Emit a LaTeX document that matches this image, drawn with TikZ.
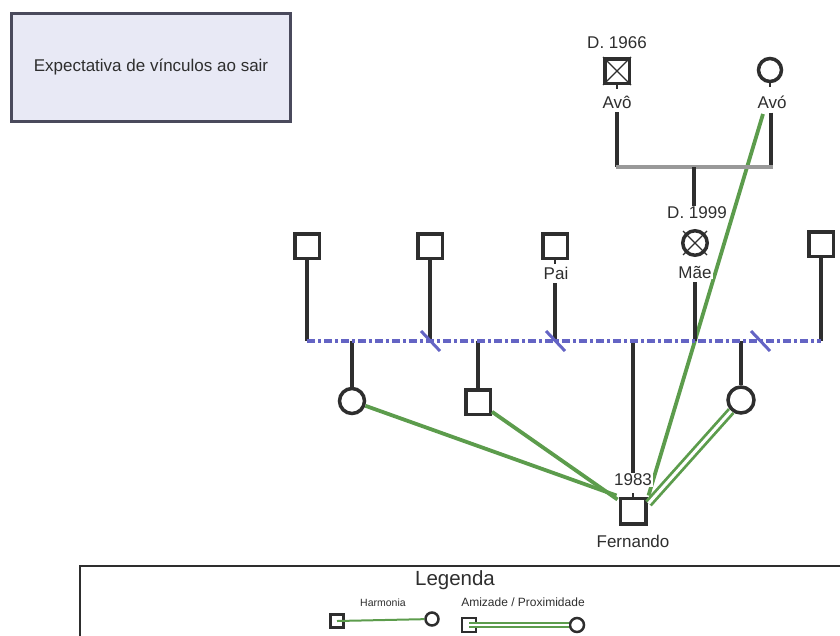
\documentclass[tikz,border=0pt]{standalone}
\usepackage{fontspec}
\setmainfont{Liberation Sans}
\pgfdeclarelayer{bg}
\pgfsetlayers{bg,main}
\definecolor{grn}{HTML}{5C9C4C}
\definecolor{blu}{HTML}{6464C4}
\definecolor{kk}{HTML}{2E2E2E}
\definecolor{titlefill}{HTML}{E8E9F5}
\definecolor{titledraw}{HTML}{4A4A5C}
\begin{document}
\begin{tikzpicture}[x=1pt,y=-1pt,
  sq/.style={draw=kk, line width=3.5pt, minimum size=24.5pt, inner sep=0pt, fill=white},
  ci/.style={circle, draw=kk, line width=3.5pt, minimum size=23pt, inner sep=0pt, fill=white},
  lbl/.style={font=\fontsize{17}{19}\selectfont, inner sep=1pt, fill=white, text=kk},
  kin/.style={draw=kk, line width=3.5pt},
  harm/.style={draw=grn, line width=3.8pt},
  friend/.style={draw=grn, line width=2.8pt, double=white, double distance=3pt},
  marr/.style={draw=black!40, line width=4pt},
  sepline/.style={draw=blu, line width=4pt, dash pattern=on 8pt off 3pt on 3pt off 3pt},
  divmark/.style={draw=blu, line width=3pt},
  xmark/.style={draw=kk, line width=1.3pt}]
\useasboundingbox (0,0) rectangle (840,635);

% title box
\node[draw=titledraw, fill=titlefill, line width=3.5pt, minimum width=279pt, minimum height=108pt,
      font=\fontsize{17}{19}\selectfont, text=kk] (title) at (151,67.5) {Expectativa de vínculos ao sair};

% grandparents
\node[sq] (gf) at (617,71) {};
\draw[xmark] (gf.north west) -- (gf.south east) (gf.north east) -- (gf.south west);
\node[lbl] (gfd) at (617,43) {D. 1966};
\node[lbl] (gflab) at (617,102) {Avô};
\node[ci] (gm) at (770,70) {};
\node[lbl] (gmlab) at (772,102) {Avó};
\coordinate (m1) at (617,167);
\coordinate (m2) at (771,167);
\coordinate (mm) at (694,167);
\draw[kin, line width=2pt] (gf.south) -- ++(0,4);
\draw[kin, line width=2pt] (gm.south) -- ++(0,4);
\draw[kin] ([yshift=-3pt]gflab.south -| m1) -- (m1);
\draw[kin] ([yshift=-3pt]gmlab.south -| m2) -- (m2);
\draw[marr] ([xshift=-1.5pt]m1) -- ([xshift=1.5pt]m2);

% mother
\node[lbl] (maed) at (697,213) {D. 1999};
\node[ci, minimum size=24.5pt] (mae) at (695,243) {};
\draw[xmark] ([shift={(-12,-12)}]mae.center) -- ([shift={(12,12)}]mae.center)
             ([shift={(12,-12)}]mae.center) -- ([shift={(-12,12)}]mae.center);
\node[lbl] (maelab) at (695,272) {Mãe};
\draw[kin] (mm) -- (mm |- maed.north);

% top row
\node[sq] (u1) at (307,246) {};
\node[sq] (u2) at (430,246) {};
\node[sq] (pai) at (555,246) {};
\node[lbl] (pailab) at (556,273) {Pai};
\node[sq] (u5) at (821,244) {};
\draw[kin, line width=2pt] (pai.south) -- ++(0,4);

\coordinate (s1) at (307,341);
\coordinate (s2) at (430,341);
\coordinate (s3) at (555,341);
\coordinate (s4) at (695,341);
\coordinate (s5) at (821,341);
\coordinate (dv) at (760,341);

\draw[kin] (u1.south) -- (s1);
\draw[kin] (u2.south) -- (s2);
\draw[kin] ([yshift=-3pt]pailab.south -| s3) -- (s3);
\draw[kin] ([yshift=-3pt]maelab.south -| s4) -- (s4);
\draw[kin] (u5.south) -- (s5);

% children
\node[ci, minimum size=25pt] (c1) at (352,401) {};
\node[sq] (c2) at (478,402) {};
\node[ci, minimum size=26pt] (c4) at (741,400) {};
\node[sq, minimum size=25.5pt] (fer) at (633,511) {};
\node[lbl] (fer83) at (633,480) {1983};
\node[lbl] (ferlab) at (633,541) {Fernando};
\coordinate (d1) at (352,341);
\coordinate (d2) at (478,341);
\coordinate (d3) at (633,341);
\coordinate (d4) at (741,341);
\draw[kin] (d1) -- (c1.north);
\draw[kin] (d2) -- (c2.north);
\draw[kin] (d3) -- (fer83.north);
\draw[kin] (d4) -- (c4.north);
\draw[kin, line width=2pt] (fer.north) -- ++(0,-4);

% separation line and divorce marks
\draw[sepline] (s1) -- (s5);
\draw[divmark] ([shift={(-9,-10)}]s2) -- ([shift={(10,10)}]s2);
\draw[divmark] ([shift={(-9,-10)}]s3) -- ([shift={(10,10)}]s3);
\draw[divmark] ([shift={(-9,-10)}]dv) -- ([shift={(10,10)}]dv);

% emotional relationships
\coordinate (gmg) at (763,114);
\begin{pgfonlayer}{bg}
\draw[harm] (gmg) -- ([shift={(1,-1)}]fer.north east);
\end{pgfonlayer}
\draw[harm] (c1) -- ([shift={(-2,-1)}]fer.north west);
\draw[harm] (c2) -- ([shift={(-1,3)}]fer.north west);
\draw[friend] (c4) -- ([shift={(1,7)}]fer.north east);

% legend
\draw[draw=kk, line width=1.5pt] (80,640) |- (845,566);
\node[font=\fontsize{20.5}{23}\selectfont, text=kk] (leg) at (455,580) {Legenda};
\node[font=\fontsize{10.5}{12}\selectfont, text=kk] (lh) at (383,603) {Harmonia};
\node[draw=kk, line width=2.5pt, minimum size=13pt, inner sep=0pt] (lhs) at (337,621) {};
\node[circle, draw=kk, line width=2.5pt, minimum size=13pt, inner sep=0pt] (lhc) at (432,619) {};
\draw[grn, line width=2pt] (lhs.center) -- (lhc);
\node[font=\fontsize{12}{14}\selectfont, text=kk] (la) at (523,602) {Amizade / Proximidade};
\node[draw=kk, line width=2.5pt, minimum size=14pt, inner sep=0pt] (las) at (469,625) {};
\node[circle, draw=kk, line width=2.5pt, minimum size=14pt, inner sep=0pt] (lac) at (577,625) {};
\draw[draw=grn, line width=2pt, double=white, double distance=2.5pt] (las.center) -- (lac);
\end{tikzpicture}
\end{document}
